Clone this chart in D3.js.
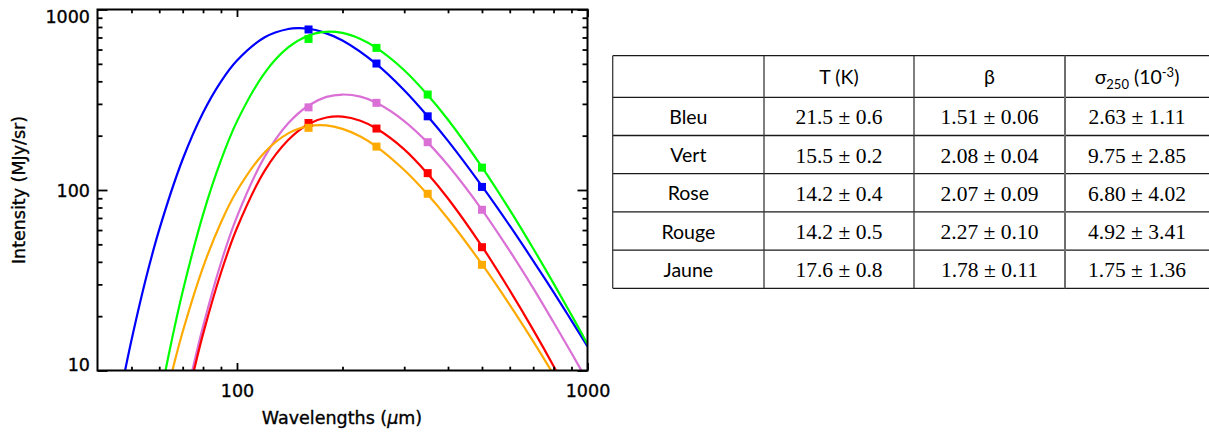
<!DOCTYPE html>
<html>
<head>
<meta charset="utf-8">
<script src="https://cdn.jsdelivr.net/npm/d3@7"></script>
<style>
  html, body { margin: 0; padding: 0; background: #fff; }
  svg { display: block; }
</style>
</head>
<body>
<script>
// ---------------- DATA ----------------
const seriesNames = ["Bleu", "Vert", "Rose", "Rouge", "Jaune"];

// measured points (wavelength in µm, intensity in MJy/sr)
const pointWavelengths = [160, 250, 350, 500];
const bleuPoints  = [775, 502, 256, 104];
const vertPoints  = [687, 613, 338, 133];
const rosePoints  = [287, 304, 184, 77.7];
const rougePoints = [235, 219, 124, 48.2];
const jaunePoints = [221, 174, 95.3, 38.5];

// fitted curves
const bleuFitWl  = [45, 48, 50, 55, 60, 70, 80, 90, 100, 120, 140, 150, 160, 175, 200, 250, 300, 350, 400, 500, 600, 700, 800, 900, 1000];
const bleuFit    = [5.4, 10.1, 14.7, 32.4, 60.3, 148, 268, 399, 522, 702, 780, 788, 782, 752, 673, 498, 357, 256, 187, 105, 63.4, 40.5, 27.2, 18.9, 13.6];
const vertFitWl  = [60, 62, 65, 70, 80, 90, 100, 120, 140, 160, 175, 200, 225, 250, 300, 350, 400, 500, 600, 700, 800, 900, 1000];
const vertFit    = [6.6, 9.2, 14.4, 27.4, 73.1, 146, 240, 446, 616, 717, 750, 742, 687, 613, 461, 336, 245, 134, 77.6, 47.4, 30.4, 20.3, 14.0];
const roseFitWl  = [70, 75, 80, 90, 100, 120, 140, 160, 180, 200, 225, 250, 300, 350, 400, 500, 600, 700, 800, 900, 1000];
const roseFit    = [5.65, 10.45, 17.5, 39.4, 71.2, 153, 234, 294, 328, 338, 329, 304, 241, 183, 137, 77.7, 46.0, 28.6, 18.5, 12.5, 8.7];
const rougeFitWl = [75, 76, 80, 90, 100, 120, 140, 160, 180, 200, 225, 250, 300, 350, 400, 500, 600, 700, 800, 850];
const rougeFit   = [9.6, 10.7, 15.9, 34.8, 61.6, 128, 189, 232, 252, 255, 242, 219, 168, 123, 89.7, 48.7, 27.8, 16.8, 10.6, 8.5];
const jauneFitWl = [60, 65, 66, 70, 80, 90, 100, 120, 140, 160, 180, 200, 225, 250, 300, 350, 400, 500, 600, 700, 800];
const jauneFit   = [4.9, 9.5, 10.7, 16.4, 37.3, 66.1, 99, 162, 206, 226, 228, 218, 198, 174, 129, 94.4, 69.3, 38.8, 23.1, 14.5, 9.5];

const xTickLabels = [100, 1000];
const yTickLabels = [10, 100, 1000];
const xTitle = "Wavelengths (";
const xTitleUnit = "μ";
const xTitleEnd = "m)";
const yTitle = "Intensity (MJy/sr)";

// table
const tableRowLabels = ["Bleu", "Vert", "Rose", "Rouge", "Jaune"];
const tempCol  = ["21.5 ± 0.6", "15.5 ± 0.2", "14.2 ± 0.4", "14.2 ± 0.5", "17.6 ± 0.8"];
const betaCol  = ["1.51 ± 0.06", "2.08 ± 0.04", "2.07 ± 0.09", "2.27 ± 0.10", "1.78 ± 0.11"];
const sigmaCol = ["2.63 ± 1.11", "9.75 ± 2.85", "6.80 ± 4.02", "4.92 ± 3.41", "1.75 ± 1.36"];

// ---------------- STYLE ----------------
const colors = { Bleu: "#0000ff", Vert: "#00ff00", Rose: "#da70d6", Rouge: "#ff0000", Jaune: "#ffaa00" };
const idlFont = "'DejaVu Sans', sans-serif";

// ---------------- CHART ----------------
const W = 1209, H = 435;
const svg = d3.select("body").append("svg").attr("width", W).attr("height", H)
  .style("background", "#fff");

const pLeft = 97.5, pRight = 587.5, pTop = 9.5, pBottom = 370.5;
const x = d3.scaleLog().domain([40, 1000]).range([pLeft, pRight]);
const y = d3.scaleLog().domain([10, 1000]).range([pBottom, pTop]);

svg.append("defs").append("clipPath").attr("id", "plotclip")
  .append("rect").attr("x", pLeft).attr("y", pTop).attr("width", pRight - pLeft).attr("height", pBottom - pTop);

const fits = {
  Bleu: [bleuFitWl, bleuFit], Vert: [vertFitWl, vertFit], Rose: [roseFitWl, roseFit],
  Rouge: [rougeFitWl, rougeFit], Jaune: [jauneFitWl, jauneFit]
};
const pts = { Bleu: bleuPoints, Vert: vertPoints, Rose: rosePoints, Rouge: rougePoints, Jaune: jaunePoints };

const lineGen = d3.line().x(d => x(d[0])).y(d => y(d[1])).curve(d3.curveCatmullRom.alpha(0.5));
const plot = svg.append("g").attr("clip-path", "url(#plotclip)");
seriesNames.forEach(name => {
  const [wl, v] = fits[name];
  plot.append("path").datum(wl.map((w, i) => [w, v[i]]))
    .attr("d", lineGen).attr("fill", "none").attr("stroke", colors[name]).attr("stroke-width", 2.2);
});
seriesNames.forEach(name => {
  plot.selectAll(null).data(pointWavelengths.map((w, i) => [w, pts[name][i]])).enter()
    .append("rect")
    .attr("x", d => x(d[0]) - 4).attr("y", d => y(d[1]) - 4)
    .attr("width", 8).attr("height", 8)
    .attr("fill", colors[name]);
});

// ticks (inward, on all four sides)
const allX = x.ticks();
const minorX = allX.filter(t => !xTickLabels.includes(t) && t > 40);
const allY = y.ticks();
const minorY = allY.filter(t => !yTickLabels.includes(t));
function styleTicks(g) {
  g.select(".domain").remove();
  g.selectAll("line").attr("stroke", "#000").attr("stroke-width", 1.8);
}
svg.append("g").attr("transform", `translate(0,${pBottom})`).call(d3.axisBottom(x).tickValues(minorX).tickSize(-3.8).tickFormat("")).call(styleTicks);
svg.append("g").attr("transform", `translate(0,${pBottom})`).call(d3.axisBottom(x).tickValues(xTickLabels).tickSize(-7.5).tickFormat("")).call(styleTicks);
svg.append("g").attr("transform", `translate(0,${pTop})`).call(d3.axisTop(x).tickValues(minorX).tickSize(-3.8).tickFormat("")).call(styleTicks);
svg.append("g").attr("transform", `translate(0,${pTop})`).call(d3.axisTop(x).tickValues(xTickLabels).tickSize(-7.5).tickFormat("")).call(styleTicks);
svg.append("g").attr("transform", `translate(${pLeft},0)`).call(d3.axisLeft(y).tickValues(minorY).tickSize(-5).tickFormat("")).call(styleTicks);
svg.append("g").attr("transform", `translate(${pLeft},0)`).call(d3.axisLeft(y).tickValues(yTickLabels).tickSize(-10).tickFormat("")).call(styleTicks);
svg.append("g").attr("transform", `translate(${pRight},0)`).call(d3.axisRight(y).tickValues(minorY).tickSize(-5).tickFormat("")).call(styleTicks);
svg.append("g").attr("transform", `translate(${pRight},0)`).call(d3.axisRight(y).tickValues(yTickLabels).tickSize(-10).tickFormat("")).call(styleTicks);

// frame
svg.append("rect").attr("x", pLeft).attr("y", pTop).attr("width", pRight - pLeft).attr("height", pBottom - pTop)
  .attr("fill", "none").attr("stroke", "#000").attr("stroke-width", 2);

// tick labels
const xl = svg.append("g").attr("transform", `translate(0,${pBottom})`)
  .call(d3.axisBottom(x).tickValues(xTickLabels).tickSize(0).tickPadding(14.5).tickFormat(d3.format("d")));
xl.select(".domain").remove();
xl.selectAll("text").attr("font-family", idlFont).attr("font-size", 17.5).attr("fill", "#000")
  .attr("stroke", "#000").attr("stroke-width", 0.35);

const yl = svg.append("g").attr("transform", `translate(${pLeft},0)`)
  .call(d3.axisLeft(y).tickValues(yTickLabels).tickSize(0).tickPadding(7.5).tickFormat(d3.format("d")));
yl.select(".domain").remove();
const yShift = v => v === 1000 ? 7 : (v === 10 ? -5.5 : 1);
yl.selectAll(".tick text").attr("font-family", idlFont).attr("font-size", 17.5).attr("fill", "#000")
  .attr("stroke", "#000").attr("stroke-width", 0.35)
  .attr("transform", d => `translate(0,${yShift(d)})`);

// axis titles
const xt = svg.append("text").attr("x", (pLeft + pRight) / 2 - 0.5).attr("y", 424)
  .attr("text-anchor", "middle").attr("font-family", idlFont).attr("font-size", 17.5).attr("fill", "#000")
  .attr("stroke", "#000").attr("stroke-width", 0.35);
xt.append("tspan").text(xTitle);
xt.append("tspan").attr("font-style", "italic").text(xTitleUnit);
xt.append("tspan").text(xTitleEnd);

svg.append("text").attr("transform", `translate(25,${(pTop + pBottom) / 2}) rotate(-90)`)
  .attr("text-anchor", "middle").attr("font-family", idlFont).attr("font-size", 17.5).attr("fill", "#000")
  .attr("stroke", "#000").attr("stroke-width", 0.35)
  .text(yTitle);

// ---------------- TABLE ----------------
const tLeft = 612.7, tRight = 1209, tTop = 55.7, tHeadBottom = 97.3, rowH = 38.2;
const colEdges = [612.7, 764, 914, 1065, 1209];
const rowScale = d3.scaleLinear().domain([0, 1]).range([tHeadBottom, tHeadBottom + rowH]);
const hLines = [tTop].concat(d3.range(tableRowLabels.length + 1).map(i => rowScale(i)));
const tg = svg.append("g");
tg.selectAll(".hl").data(hLines).enter().append("line")
  .attr("x1", tLeft).attr("x2", tRight).attr("y1", d => d).attr("y2", d => d)
  .attr("stroke", "#1a1a1a").attr("stroke-width", 1.3);
tg.selectAll(".vl").data(colEdges.slice(0, 4)).enter().append("line")
  .attr("x1", d => d).attr("x2", d => d).attr("y1", tTop).attr("y2", rowScale(tableRowLabels.length))
  .attr("stroke", (d, i) => i === 3 ? "#6e6e6e" : "#3a3a3a").attr("stroke-width", (d, i) => i === 3 ? 2 : 1.3);

const colCenter = i => (colEdges[i] + colEdges[i + 1]) / 2;
const sansFont = "Lato, 'Open Sans', sans-serif";
const serifFont = "'Liberation Serif', 'Times New Roman', serif";
const headY = (tTop + tHeadBottom) / 2 + 7;

tg.append("text").attr("x", colCenter(1)).attr("y", headY).attr("text-anchor", "middle")
  .attr("font-family", sansFont).attr("font-size", 19.5).text("T (K)");
tg.append("text").attr("x", colCenter(2)).attr("y", headY).attr("text-anchor", "middle")
  .attr("font-family", sansFont).attr("font-size", 19.5).text("β");
const sh = tg.append("text").attr("x", colCenter(3)).attr("y", headY).attr("text-anchor", "middle")
  .attr("font-family", sansFont).attr("font-size", 19.5);
sh.append("tspan").text("σ");
sh.append("tspan").attr("font-size", 13).attr("dy", 5).text("250");
sh.append("tspan").attr("dy", -5).text(" (10");
sh.append("tspan").attr("font-size", 13).attr("dy", -7).text("-3");
sh.append("tspan").attr("dy", 7).text(")");

tableRowLabels.forEach((lab, i) => {
  const cy = rowScale(i) + rowH / 2;
  tg.append("text").attr("x", colCenter(0)).attr("y", cy + 7.5).attr("text-anchor", "middle")
    .attr("font-family", sansFont).attr("font-size", 19.5).text(lab);
  [tempCol, betaCol, sigmaCol].forEach((col, j) => {
    tg.append("text").attr("x", colCenter(j + 1)).attr("y", cy + 8).attr("text-anchor", "middle")
      .attr("font-family", serifFont).attr("font-size", 21.5).text(col[i]);
  });
});
</script>
</body>
</html>
